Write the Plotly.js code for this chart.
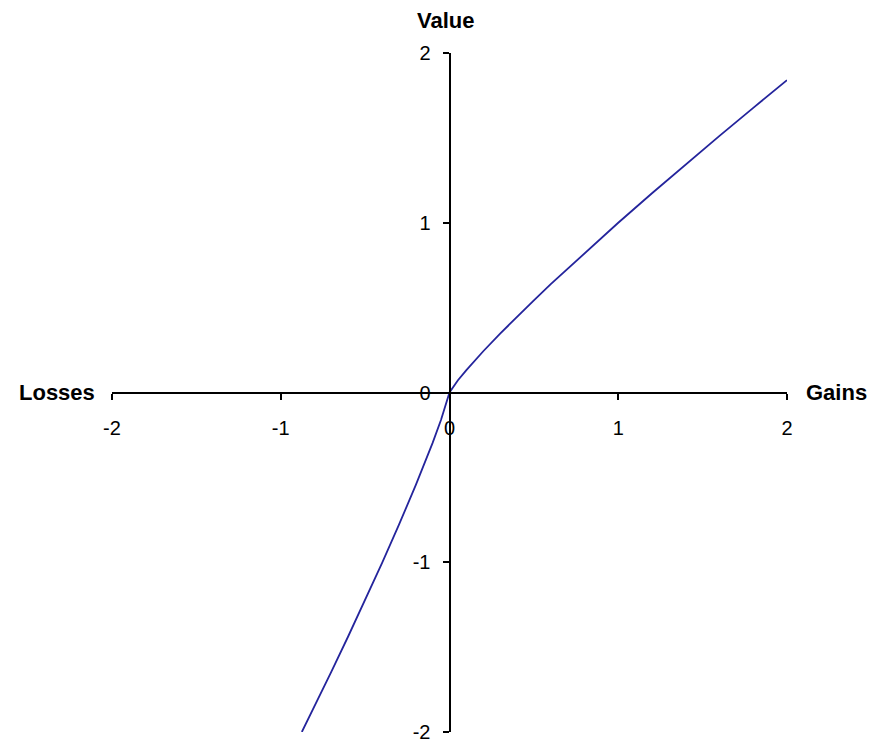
<!DOCTYPE html>
<html>
<head>
<meta charset="utf-8">
<script src="https://cdn.plot.ly/plotly-3.0.1.min.js"></script>
<style>html,body{margin:0;padding:0;background:#fff;}#chart{width:869px;height:744px;}</style>
</head>
<body>
<div id="chart"></div>
<script>
// Outcome (gains/losses) and subjective value
const outcome = [-0.875, -0.8, -0.7, -0.6, -0.5, -0.4, -0.3, -0.2, -0.1, -0.05, 0,
                 0.05, 0.1, 0.2, 0.3, 0.4, 0.5, 0.6, 0.8, 1.0, 1.2, 1.4, 1.6, 1.8, 2.0];
const value = [-2.0, -1.849, -1.644, -1.436, -1.223, -1.005, -0.780, -0.546, -0.297, -0.161, 0,
               0.072, 0.132, 0.243, 0.347, 0.447, 0.543, 0.638, 0.822, 1.0, 1.174, 1.345, 1.512, 1.677, 1.840];
const tickVals = [-2, -1, 0, 1, 2];
const tickText = ['-2', '-1', '0', '1', '2'];

const tickFont = {family: 'Liberation Sans, Arial, sans-serif', size: 20, color: '#000'};
const titleFont = {family: 'Liberation Sans, Arial, sans-serif', size: 22, color: '#000'};

const trace = {
  x: outcome, y: value, type: 'scatter', mode: 'lines',
  line: {color: '#24249c', width: 1.8}, hoverinfo: 'skip'
};

const axisCommon = {
  range: [-2, 2], showgrid: false, zeroline: false, showline: true,
  linecolor: '#000', linewidth: 2, ticks: 'outside', ticklen: 6, tickwidth: 2,
  tickcolor: '#000', tickvals: tickVals, ticktext: tickText, tickfont: tickFont,
  anchor: 'free', position: 0.5, fixedrange: true, ticklabeloverflow: 'allow'
};

const layout = {
  width: 869, height: 744,
  margin: {l: 112, r: 82, t: 53, b: 12},
  paper_bgcolor: '#fff', plot_bgcolor: '#fff',
  showlegend: false,
  font: tickFont,
  xaxis: Object.assign({}, axisCommon, {ticklabelstandoff: 11}),
  yaxis: Object.assign({}, axisCommon, {ticklabelstandoff: 8}),
  annotations: [
    {text: '<b>Losses</b>', xref: 'x', yref: 'y', x: -2, y: 0, xanchor: 'right', yanchor: 'middle',
     xshift: -15, showarrow: false, font: titleFont},
    {text: '<b>Gains</b>', xref: 'x', yref: 'y', x: 2, y: 0, xanchor: 'left', yanchor: 'middle',
     xshift: 17, showarrow: false, font: titleFont},
    {text: '<b>Value</b>', xref: 'x', yref: 'y', x: 0, y: 2, xanchor: 'center', yanchor: 'bottom',
     xshift: -4, yshift: 18, showarrow: false, font: titleFont}
  ]
};

Plotly.newPlot('chart', [trace], layout, {displayModeBar: false, staticPlot: true});
</script>
</body>
</html>
